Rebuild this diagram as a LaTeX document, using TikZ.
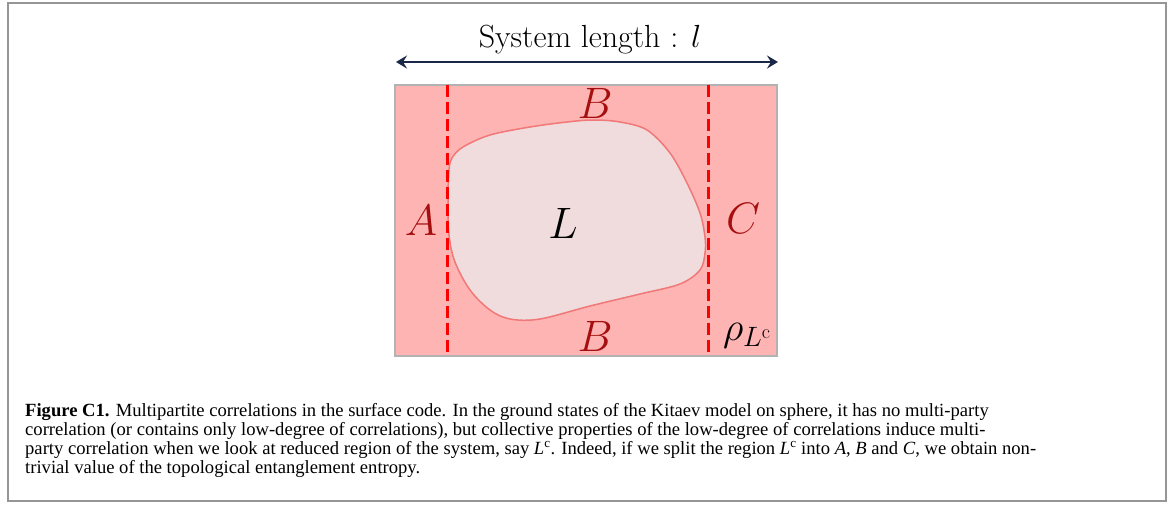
\documentclass[tikz,border=0pt]{standalone}
\usepackage{fix-cm}
\usepackage{fontspec}
\newfontfamily\captionfont{Liberation Serif}
\usepackage{xcolor}
\usetikzlibrary{arrows.meta}
\definecolor{regionPink}{RGB}{255,180,180}
\definecolor{blobPink}{RGB}{240,220,220}
\definecolor{blobEdge}{RGB}{240,120,120}
\definecolor{cutRed}{RGB}{255,0,0}
\definecolor{labelRed}{RGB}{165,15,15}
\definecolor{arrowNavy}{RGB}{25,40,70}
\definecolor{frameGray}{RGB}{150,150,150}

\begin{document}
\begin{tikzpicture}[x=1pt,y=-1pt]
\tikzset{
    region label/.style={
        text=labelRed, inner sep=0pt,
        font=\fontsize{44}{48}\selectfont
    },
    math label/.style={
        inner sep=0pt, font=\fontsize{44}{48}\selectfont
    },
    cut line/.style={
        draw=cutRed, line width=3pt, dash pattern=on 12pt off 5pt
    },
    arrow/.style={
        line width=2.5pt, {Stealth[length=11pt,width=13pt,inset=4pt]}-{Stealth[length=11pt,width=13pt,inset=4pt]},
        draw=arrowNavy
    }
}
\useasboundingbox (0,0) rectangle (1171,504);
% Cadrul exterior
\draw[frameGray, line width=1.5pt] (8,3) rectangle (1166,501);

% Regiunea L^c
\draw[fill=regionPink, draw=black!30, line width=1.2pt] (395,85) rectangle (777,356);
% Regiunea L
\draw[fill=blobPink, draw=blobEdge, line width=1.5pt] plot[smooth cycle, tension=0.55] coordinates {
    (593,120) (620,122) (647,130) (670,153) (687,183) (700,213) (705,237) (705,253)
    (700,270) (680,284) (640,294) (590,306) (540,319) (510,319) (490,310) (470,290)
    (455,262) (449,235) (448,200) (449,170) (452,158) (463,147) (490,135) (530,127) (567,122)};

% Liniile de taiere
\coordinate (cutAtop) at (447,85);
\coordinate (cutAbot) at (447,356);
\coordinate (cutCtop) at (708,85);
\coordinate (cutCbot) at (708,356);
\draw[cut line] (cutAtop) -- (cutAbot);
\draw[cut line] (cutCtop) -- (cutCbot);

% Lungimea sistemului
\coordinate (lenLeft)  at (396,62);
\coordinate (lenRight) at (778,62);
\draw[arrow] (lenLeft) -- (lenRight);
\node[font=\fontsize{32}{36}\selectfont] (length) at (590,40) {System length : $l$};

% Etichete
\node[region label] (Btop) at (595,103) {$B$};
\node[region label] (Bbot) at (595,336) {$B$};
\node[region label] (A)    at (421,220) {$A$};
\node[region label] (C)    at (743,218) {$C$};
\node[math label]   (L)    at (563,223) {$L$};
\node[math label, font=\fontsize{40}{44}\selectfont] (rho) at (747,336) {$\rho_{L^{\mathrm{c}}}$};

% Legenda
\node[anchor=north west, align=left, inner sep=0pt,
      font=\captionfont\fontsize{18.6}{19.2}\selectfont] (caption) at (25,403)
    {\textbf{Figure C1.} Multipartite correlations in the surface code. In the ground states of the Kitaev model on sphere, it has no multi-party\\
     correlation (or contains only low-degree of correlations), but collective properties of the low-degree of correlations induce multi-\\
     party correlation when we look at reduced region of the system, say \textit{L}\textsuperscript{c}. Indeed, if we split the region \textit{L}\textsuperscript{c} into \textit{A}, \textit{B} and \textit{C}, we obtain non-\\
     trivial value of the topological entanglement entropy.};
\end{tikzpicture}
\end{document}
